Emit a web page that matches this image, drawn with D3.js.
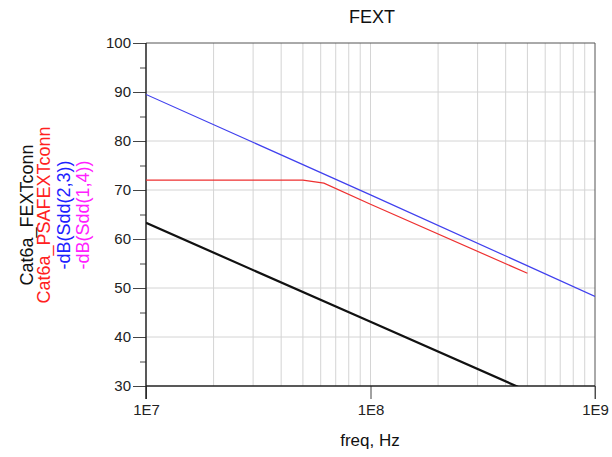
<!DOCTYPE html>
<html>
<head>
<meta charset="utf-8">
<script src="https://cdn.jsdelivr.net/npm/d3@7"></script>
<style>
  body { margin: 0; background: #fff; }
  text { font-family: Arial, "Liberation Sans", sans-serif; }
</style>
</head>
<body>
<script>
// series (freq in Hz, value in dB)
const fextFreq = [1e7, 1e8, 1e9];
const fextVal = [63.3, 43.1, 22.9];           // Cat6a_FEXTconn (black)
const psaFreq = [1e7, 5e7, 6.2e7, 1e8, 5e8];
const psaVal = [72.0, 72.0, 71.4, 67.1, 53.0]; // Cat6a_PSAFEXTconn (red)
const sdd23Freq = [1e7, 1e8, 1e9];
const sdd23Val = [89.5, 69.0, 48.3];          // -dB(Sdd(2,3)) (blue)

const yTicks = [30, 40, 50, 60, 70, 80, 90, 100];
const xTicks = [1e7, 1e8, 1e9];
const xTickLabels = ["1E7", "1E8", "1E9"];
const legendNames = ["Cat6a_FEXTconn", "Cat6a_PSAFEXTconn", "-dB(Sdd(2,3))", "-dB(Sdd(1,4))"];
const legendColors = ["#111", "#ff2020", "#2020ff", "#ff20ff"];

const width = 612, height = 457;
const margin = {left: 146, top: 43, right: 17, bottom: 71};

const svg = d3.select("body").append("svg")
    .attr("width", width)
    .attr("height", height);

const x = d3.scaleLog()
    .domain([1e7, 1e9])
    .range([margin.left, width - margin.right]);

const y = d3.scaleLinear()
    .domain([30, 100])
    .range([height - margin.bottom, margin.top]);

svg.append("clipPath").attr("id", "clip")
  .append("rect")
    .attr("x", margin.left).attr("y", margin.top)
    .attr("width", x.range()[1] - margin.left)
    .attr("height", y.range()[0] - margin.top);

// grid
const minor = [];
for (let e = 7; e < 9; e++) for (let k = 1; k <= 9; k++) if (k > 1 || e > 7) minor.push(k * Math.pow(10, e));
svg.append("g").selectAll("line").data(minor).join("line")
    .attr("x1", d => x(d)).attr("x2", d => x(d))
    .attr("y1", y(30)).attr("y2", y(100))
    .attr("stroke", "#d4d4d4").attr("stroke-width", 1);
svg.append("g").selectAll("line").data(yTicks.slice(1, -1)).join("line")
    .attr("x1", x(1e7)).attr("x2", x(1e9))
    .attr("y1", d => y(d)).attr("y2", d => y(d))
    .attr("stroke", "#d4d4d4").attr("stroke-width", 1);

// axes
const yAxis = svg.append("g")
    .attr("transform", `translate(${margin.left},0)`)
    .call(d3.axisLeft(y).tickValues(yTicks).tickSize(13).tickPadding(2).tickFormat(d3.format("d")));
svg.append("g")
    .attr("transform", `translate(${margin.left},0)`)
    .call(d3.axisLeft(y).tickValues(d3.range(35, 100, 10)).tickSize(6).tickFormat(""));
const xAxis = svg.append("g")
    .attr("transform", `translate(0,${y(30)})`)
    .call(d3.axisBottom(x).tickValues(xTicks).tickSize(13).tickPadding(5).tickFormat((d, i) => xTickLabels[i]));

svg.selectAll(".domain").remove();
svg.selectAll(".tick line").attr("stroke", "#444");
svg.selectAll(".tick text").attr("font-size", 15).attr("fill", "#222")
    .attr("font-family", "Arial, 'Liberation Sans', sans-serif");

// frame
svg.append("line").attr("x1", x(1e7)).attr("x2", x(1e9)).attr("y1", y(100)).attr("y2", y(100)).attr("stroke", "#555");
svg.append("line").attr("x1", x(1e9)).attr("x2", x(1e9)).attr("y1", y(100)).attr("y2", y(30) + 13).attr("stroke", "#555");
svg.append("line").attr("x1", x(1e7)).attr("x2", x(1e9)).attr("y1", y(30)).attr("y2", y(30)).attr("stroke", "#222").attr("stroke-width", 1.5);
svg.append("line").attr("x1", x(1e7)).attr("x2", x(1e7)).attr("y1", y(100)).attr("y2", y(30) + 13).attr("stroke", "#222").attr("stroke-width", 1.5);

// lines
const line = d3.line().x(d => x(d[0])).y(d => y(d[1]));
const plot = svg.append("g").attr("clip-path", "url(#clip)");
plot.append("path").datum(d3.zip(sdd23Freq, sdd23Val))
    .attr("d", line).attr("fill", "none").attr("stroke", "#4040ee").attr("stroke-width", 1.2);
plot.append("path").datum(d3.zip(psaFreq, psaVal))
    .attr("d", line).attr("fill", "none").attr("stroke", "#ee3030").attr("stroke-width", 1.2);
plot.append("path").datum(d3.zip(fextFreq, fextVal))
    .attr("d", line).attr("fill", "none").attr("stroke", "#111").attr("stroke-width", 2.2);

// title and labels
svg.append("text").attr("x", 372).attr("y", 23).attr("text-anchor", "middle")
    .attr("font-size", 18).attr("fill", "#111").text("FEXT");
svg.append("text").attr("x", 370).attr("y", 446).attr("text-anchor", "middle")
    .attr("font-size", 17).attr("fill", "#111").text("freq, Hz");

const legendX = [33, 50, 70, 89];
svg.append("g").selectAll("text").data(legendNames).join("text")
    .attr("transform", (d, i) => `translate(${legendX[i]},215) rotate(-90)`)
    .attr("text-anchor", "middle")
    .attr("font-size", 18)
    .attr("fill", (d, i) => legendColors[i])
    .text(d => d);
</script>
</body>
</html>
